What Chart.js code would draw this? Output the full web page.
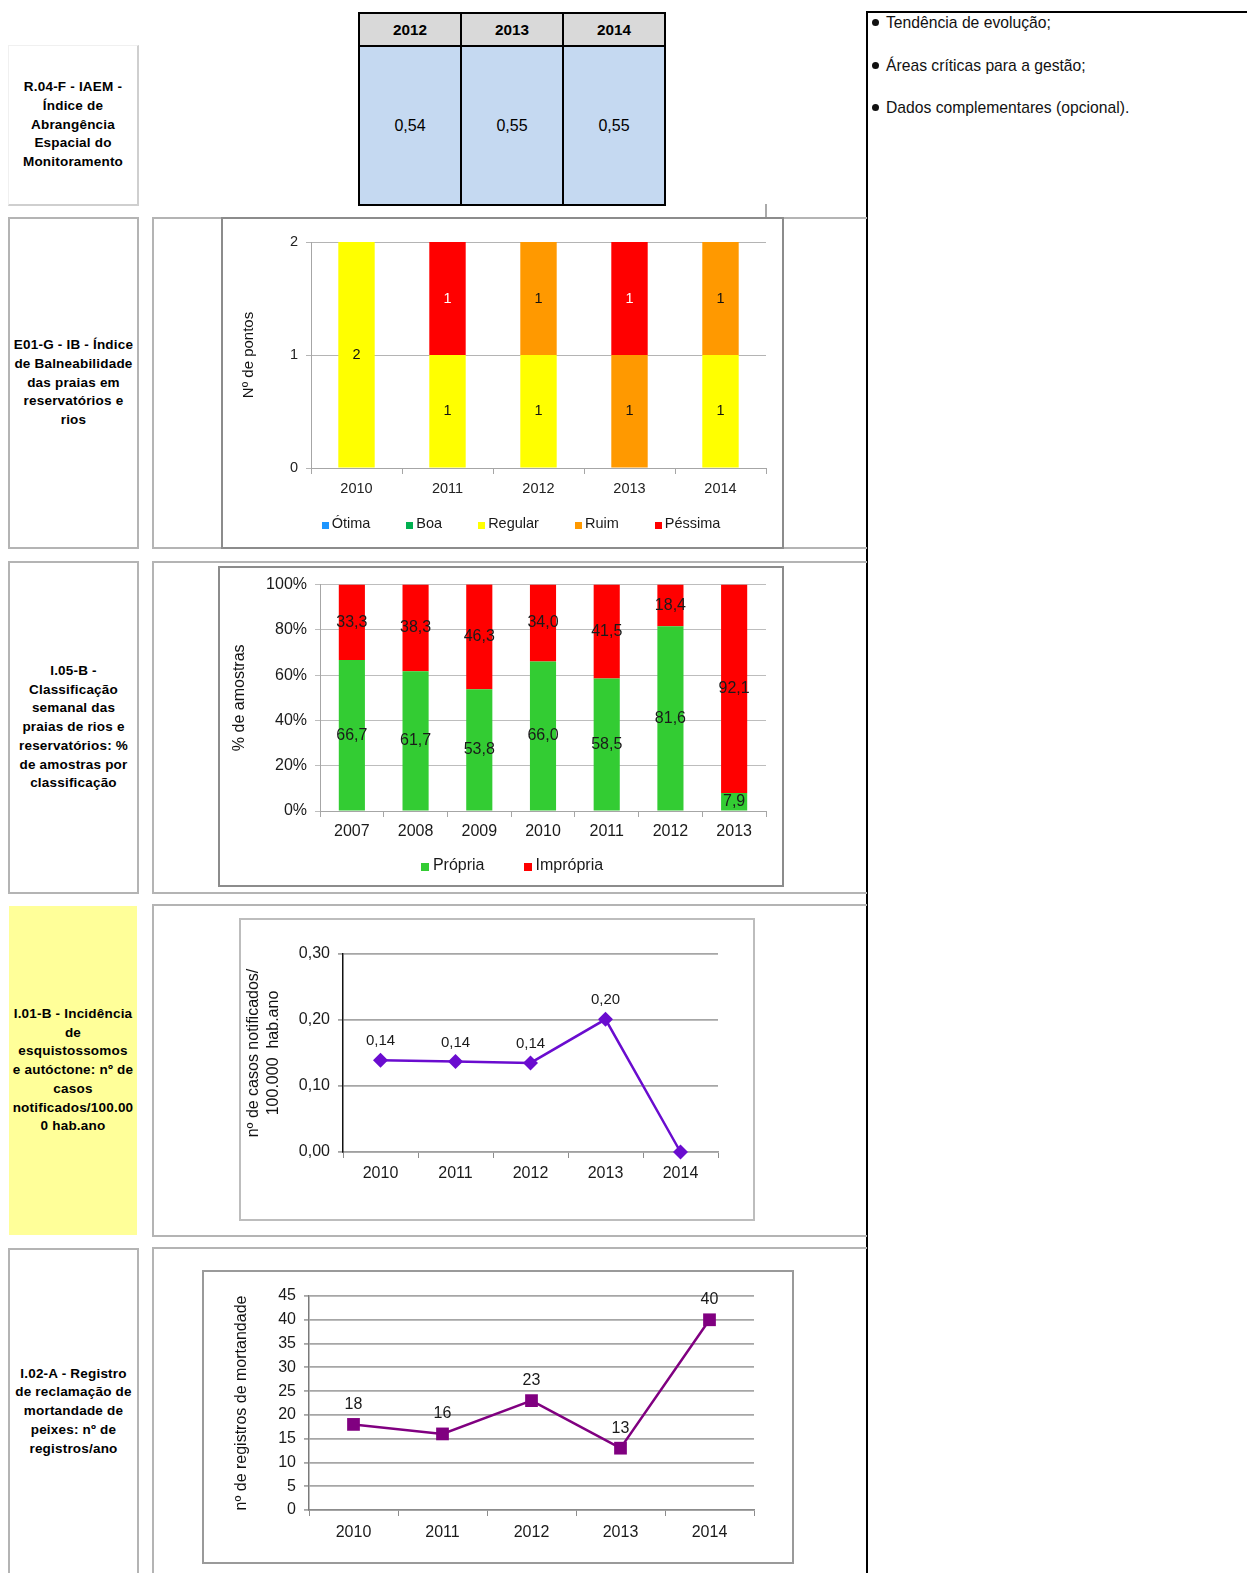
<!DOCTYPE html>
<html>
<head>
<meta charset="utf-8">
<script src="https://cdn.jsdelivr.net/npm/chart.js@4.4.1/dist/chart.umd.min.js"></script>
<style>
  body{margin:0;background:#fff;width:1247px;height:1573px;overflow:hidden;position:relative;font-family:'Liberation Sans',Arial,sans-serif;}
  .abs{position:absolute;box-sizing:border-box;}
  .lbl{position:absolute;box-sizing:border-box;display:flex;align-items:center;justify-content:center;text-align:center;font-weight:bold;font-size:13.5px;line-height:18.7px;color:#000;letter-spacing:0.2px;}
  .box{position:absolute;box-sizing:border-box;border-top:2px solid #b4b4b4;border-left:2px solid #b4b4b4;border-bottom:2px solid #b4b4b4;}
  .cb{position:absolute;box-sizing:border-box;border:2px solid #9a9a9a;pointer-events:none;}
  canvas{position:absolute;}
  .cell{position:absolute;box-sizing:border-box;border:2px solid #000;display:flex;align-items:center;justify-content:center;}
  .hd{background:#d9d9d9;font-weight:bold;font-size:15.3px;}
  .bd{background:#c5d9f1;font-size:16px;}
  .rt{position:absolute;left:872px;font-size:15.7px;line-height:20px;color:#111;white-space:nowrap;}
  .dot{display:inline-block;width:7px;height:7px;border-radius:50%;background:#111;margin-right:7px;vertical-align:2px;}
</style>
</head>
<body>

<!-- right panel -->
<div class="abs" style="left:866px;top:11px;width:381px;height:1562px;border-left:2px solid #000;border-top:2px solid #000;"></div>
<div class="rt" style="top:13px;"><span class="dot"></span>Tendência de evolução;</div>
<div class="rt" style="top:56px;"><span class="dot"></span>Áreas críticas para a gestão;</div>
<div class="rt" style="top:98px;"><span class="dot"></span>Dados complementares (opcional).</div>

<!-- row 1 -->
<div class="lbl" style="left:8px;top:45px;width:131px;height:161px;border-left:1px solid #f0f0f0;border-top:1px solid #f0f0f0;border-right:2px solid #cfcfcf;border-bottom:2px solid #cfcfcf;">R.04-F - IAEM -<br>Índice de<br>Abrangência<br>Espacial do<br>Monitoramento</div>
<div id="tbl"></div>
<div class="abs" style="left:765px;top:204px;width:2px;height:14px;background:#aaa;"></div>

<!-- row 2 -->
<div class="lbl" style="left:8px;top:217px;width:131px;height:332px;border:2px solid #b4b4b4;">E01-G - IB - Índice<br>de Balneabilidade<br>das praias em<br>reservatórios e<br>rios</div>
<div class="box" style="left:152px;top:217px;width:715px;height:332px;"></div>
<canvas id="c1" width="561" height="330" style="left:222px;top:218px;width:561px;height:330px;"></canvas>
<div class="cb" style="left:221px;top:217px;width:563px;height:332px;border-color:#8c8c8c;"></div>

<!-- row 3 -->
<div class="lbl" style="left:8px;top:561px;width:131px;height:333px;border:2px solid #b4b4b4;">I.05-B -<br>Classificação<br>semanal das<br>praias de rios e<br>reservatórios: %<br>de amostras por<br>classificação</div>
<div class="box" style="left:152px;top:561px;width:715px;height:333px;"></div>
<canvas id="c2" width="564" height="319" style="left:219px;top:567px;width:564px;height:319px;"></canvas>
<div class="cb" style="left:218px;top:566px;width:566px;height:321px;border-color:#8c8c8c;"></div>

<!-- row 4 -->
<div class="lbl" style="left:9px;top:906px;width:128px;height:329px;background:#ffff99;">I.01-B - Incidência<br>de<br>esquistossomos<br>e autóctone: nº de<br>casos<br>notificados/100.00<br>0 hab.ano</div>
<div class="box" style="left:152px;top:904px;width:715px;height:333px;"></div>
<canvas id="c3" width="514" height="301" style="left:240px;top:919px;width:514px;height:301px;"></canvas>
<div class="cb" style="left:239px;top:918px;width:516px;height:303px;border-color:#bdbdbd;"></div>

<!-- row 5 -->
<div class="lbl" style="left:8px;top:1248px;width:131px;height:325px;border:2px solid #b4b4b4;border-bottom:none;">I.02-A - Registro<br>de reclamação de<br>mortandade de<br>peixes: nº de<br>registros/ano</div>
<div class="box" style="left:152px;top:1247px;width:715px;height:340px;"></div>
<canvas id="c4" width="590" height="292" style="left:203px;top:1271px;width:590px;height:292px;"></canvas>
<div class="cb" style="left:202px;top:1270px;width:592px;height:294px;border-color:#9a9a9a;"></div>

<script>
// ---------- DATA ----------
const iaemYears = ['2012', '2013', '2014'];
const iaemValues = ['0,54', '0,55', '0,55'];

const ibYears = ['2010', '2011', '2012', '2013', '2014'];
const ibOtima = [0, 0, 0, 0, 0];
const ibBoa = [0, 0, 0, 0, 0];
const ibRegular = [2, 1, 1, 0, 1];
const ibRuim = [0, 0, 1, 1, 1];
const ibPessima = [0, 1, 0, 1, 0];
const ibTicks = [0, 1, 2];

const clsYears = ['2007', '2008', '2009', '2010', '2011', '2012', '2013'];
const clsPropria = [66.7, 61.7, 53.8, 66.0, 58.5, 81.6, 7.9];
const clsImpropria = [33.3, 38.3, 46.3, 34.0, 41.5, 18.4, 92.1];

const esqYears = ['2010', '2011', '2012', '2013', '2014'];
const esqValues = [0.139, 0.137, 0.135, 0.201, 0];

const mortYears = ['2010', '2011', '2012', '2013', '2014'];
const mortValues = [18, 16, 23, 13, 40];

// ---------- TABLE ----------
const tbl = document.getElementById('tbl');
iaemYears.forEach((y, i) => {
  const left = 358 + i * 102;
  const h = document.createElement('div');
  h.className = 'cell hd';
  h.style.cssText = `left:${left}px;top:12px;width:104px;height:35px;`;
  h.textContent = y;
  tbl.appendChild(h);
  const b = document.createElement('div');
  b.className = 'cell bd';
  b.style.cssText = `left:${left}px;top:45px;width:104px;height:161px;`;
  b.textContent = iaemValues[i];
  tbl.appendChild(b);
});

// ---------- HELPERS ----------
const FONT = "'Liberation Sans', Arial, sans-serif";
Chart.defaults.font.family = FONT;
Chart.defaults.color = '#1a1a1a';
Chart.defaults.animation = false;

const comma = (v, d) => v.toFixed(d).replace('.', ',');

function valueLabels(cfg) {
  return {
    id: 'valueLabels',
    afterDatasetsDraw(chart) {
      const ctx = chart.ctx;
      ctx.save();
      ctx.font = cfg.font;
      ctx.textAlign = 'center';
      ctx.textBaseline = 'middle';
      chart.data.datasets.forEach((ds, i) => {
        const meta = chart.getDatasetMeta(i);
        meta.data.forEach((el, j) => {
          const v = ds.data[j];
          if (cfg.skipZero && !v) return;
          const p = el.getProps(['x', 'y', 'base'], true);
          const y = cfg.mode === 'center' ? (p.y + p.base) / 2 : p.y - cfg.offset;
          ctx.fillStyle = (cfg.colors && cfg.colors[i]) || cfg.color;
          ctx.fillText(cfg.format(v), p.x, y);
        });
      });
      ctx.restore();
    }
  };
}

function flatLegend(cfg) {
  return {
    id: 'flatLegend',
    afterDraw(chart) {
      const ctx = chart.ctx;
      ctx.save();
      ctx.font = cfg.font;
      ctx.textBaseline = 'middle';
      const items = chart.data.datasets.map(d => ({ text: d.label, color: d.backgroundColor, w: ctx.measureText(d.label).width }));
      const iw = it => cfg.box + cfg.boxGap + it.w;
      const total = items.reduce((s, it) => s + iw(it), 0) + cfg.gap * (items.length - 1);
      let x = cfg.cx - total / 2;
      items.forEach(it => {
        ctx.fillStyle = it.color;
        ctx.fillRect(Math.round(x), Math.round(cfg.y - cfg.box / 2 + 1), cfg.box, cfg.box);
        ctx.fillStyle = '#1a1a1a';
        ctx.fillText(it.text, x + cfg.box + cfg.boxGap, cfg.y);
        x += iw(it) + cfg.gap;
      });
      ctx.restore();
    }
  };
}

// ---------- CHART 1 ----------
new Chart(document.getElementById('c1'), {
  type: 'bar',
  data: {
    labels: ibYears,
    datasets: [
      { label: 'Ótima', data: ibOtima, backgroundColor: '#1e96ff' },
      { label: 'Boa', data: ibBoa, backgroundColor: '#00b050' },
      { label: 'Regular', data: ibRegular, backgroundColor: '#ffff00' },
      { label: 'Ruim', data: ibRuim, backgroundColor: '#ff9900' },
      { label: 'Péssima', data: ibPessima, backgroundColor: '#ff0000' }
    ].map(d => Object.assign(d, { barPercentage: 0.4, categoryPercentage: 1, borderWidth: 0 }))
  },
  options: {
    responsive: false,
    layout: { padding: { left: 0, top: 24, right: 17, bottom: 40 } },
    plugins: { legend: { display: false }, tooltip: { enabled: false } },
    scales: {
      x: {
        stacked: true,
        grid: { drawOnChartArea: false, tickLength: 6, color: '#a6a6a6', offset: true },
        border: { color: '#a6a6a6' },
        ticks: { font: { size: 14.5 }, padding: 6, color: '#222' },
        afterFit: s => { s.height = 40; }
      },
      y: {
        stacked: true, min: 0, max: 2,
        afterBuildTicks: s => { s.ticks = ibTicks.map(v => ({ value: v })); },
        grid: { color: '#b4b4b4', tickLength: 5 },
        border: { color: '#a6a6a6' },
        ticks: { font: { size: 14.5 }, padding: 8, color: '#222' },
        title: { display: true, text: 'Nº de pontos', font: { size: 15 }, color: '#111', padding: { top: 18, bottom: 0 } },
        afterFit: s => { s.width = 89; }
      }
    }
  },
  plugins: [
    valueLabels({ mode: 'center', font: `14.5px ${FONT}`, skipZero: true, format: v => String(v), colors: ['#000', '#000', '#111', '#111', '#fff'] }),
    flatLegend({ font: `14.5px ${FONT}`, box: 7, boxGap: 3, gap: 36, cx: 299, y: 306 })
  ]
});

// ---------- CHART 2 ----------
new Chart(document.getElementById('c2'), {
  type: 'bar',
  data: {
    labels: clsYears,
    datasets: [
      { label: 'Própria', data: clsPropria, backgroundColor: '#33cc33' },
      { label: 'Imprópria', data: clsImpropria, backgroundColor: '#ff0000' }
    ].map(d => Object.assign(d, { barPercentage: 0.41, categoryPercentage: 1, borderWidth: 0 }))
  },
  options: {
    responsive: false,
    layout: { padding: { left: 0, top: 17, right: 17, bottom: 35 } },
    plugins: { legend: { display: false }, tooltip: { enabled: false } },
    scales: {
      x: {
        stacked: true,
        grid: { drawOnChartArea: false, tickLength: 6, color: '#a6a6a6', offset: true },
        border: { color: '#a6a6a6' },
        ticks: { font: { size: 16 }, padding: 5, color: '#1a1a1a' },
        afterFit: s => { s.height = 40; }
      },
      y: {
        stacked: true, min: 0, max: 100,
        grid: { color: '#bdbdbd', tickLength: 5 },
        border: { color: '#a6a6a6' },
        ticks: { stepSize: 20, font: { size: 16 }, padding: 8, color: '#1a1a1a', callback: v => v + '%' },
        title: { display: true, text: '% de amostras', font: { size: 16 }, color: '#111', padding: { top: 11.4, bottom: 0 } },
        afterFit: s => { s.width = 101; }
      }
    }
  },
  plugins: [
    valueLabels({ mode: 'center', font: `16px ${FONT}`, skipZero: true, format: v => comma(v, 1), color: '#1a1a1a' }),
    flatLegend({ font: `16px ${FONT}`, box: 8, boxGap: 4, gap: 39, cx: 293, y: 299 })
  ]
});

// ---------- CHART 3 ----------
new Chart(document.getElementById('c3'), {
  type: 'line',
  data: {
    labels: esqYears,
    datasets: [{
      label: 'Incidência', data: esqValues,
      borderColor: '#6a0ccf', backgroundColor: '#6a0ccf', borderWidth: 2.5,
      pointStyle: 'rectRot', pointRadius: 7.5, pointBorderWidth: 0, tension: 0, clip: false
    }]
  },
  options: {
    responsive: false,
    layout: { padding: { left: 0, top: 35, right: 36, bottom: 28 } },
    plugins: { legend: { display: false }, tooltip: { enabled: false } },
    scales: {
      x: {
        offset: true,
        grid: { drawOnChartArea: false, tickLength: 6, color: '#8c8c8c', offset: true },
        border: { color: '#a0a0a0', width: 1.5 },
        ticks: { font: { size: 16 }, padding: 6, color: '#1a1a1a' },
        afterFit: s => { s.height = 40; }
      },
      y: {
        min: 0, max: 0.3,
        grid: { color: '#a6a6a6', lineWidth: 1.8, tickLength: 5 },
        border: { color: '#111', width: 1.5 },
        ticks: { stepSize: 0.1, font: { size: 16 }, padding: 8, color: '#1a1a1a', callback: v => comma(v, 2) },
        title: { display: true, text: ['nº de casos notificados/', '100.000  hab.ano'], font: { size: 16, lineHeight: 1.2 }, color: '#111', padding: { top: 4.4, bottom: 0 } },
        afterFit: s => { s.width = 103; }
      }
    }
  },
  plugins: [
    valueLabels({ mode: 'above', offset: 19, font: `15px ${FONT}`, skipZero: true, format: v => comma(v, 2), color: '#1a1a1a' })
  ]
});

// ---------- CHART 4 ----------
new Chart(document.getElementById('c4'), {
  type: 'line',
  data: {
    labels: mortYears,
    datasets: [{
      label: 'Registros', data: mortValues,
      borderColor: '#800080', backgroundColor: '#800080', borderWidth: 2.5,
      pointStyle: 'rect', pointRadius: 9, pointBorderWidth: 0, tension: 0, clip: false
    }]
  },
  options: {
    responsive: false,
    layout: { padding: { left: 0, top: 25, right: 39, bottom: 13 } },
    plugins: { legend: { display: false }, tooltip: { enabled: false } },
    scales: {
      x: {
        offset: true,
        grid: { drawOnChartArea: false, tickLength: 6, color: '#8c8c8c', offset: true },
        border: { color: '#8c8c8c', width: 1.5 },
        ticks: { font: { size: 16 }, padding: 7, color: '#1a1a1a' },
        afterFit: s => { s.height = 40; }
      },
      y: {
        min: 0, max: 45,
        grid: { color: '#a6a6a6', lineWidth: 1.8, tickLength: 5 },
        border: { color: '#7a7a7a', width: 1.5 },
        ticks: { stepSize: 5, font: { size: 16 }, padding: 8, color: '#1a1a1a' },
        title: { display: true, text: 'nº de registros de mortandade', font: { size: 16 }, color: '#111', padding: { top: 29.4, bottom: 0 } },
        afterFit: s => { s.width = 106; }
      }
    }
  },
  plugins: [
    valueLabels({ mode: 'above', offset: 20, font: `16px ${FONT}`, format: v => String(v), color: '#1a1a1a' })
  ]
});
</script>
</body>
</html>
